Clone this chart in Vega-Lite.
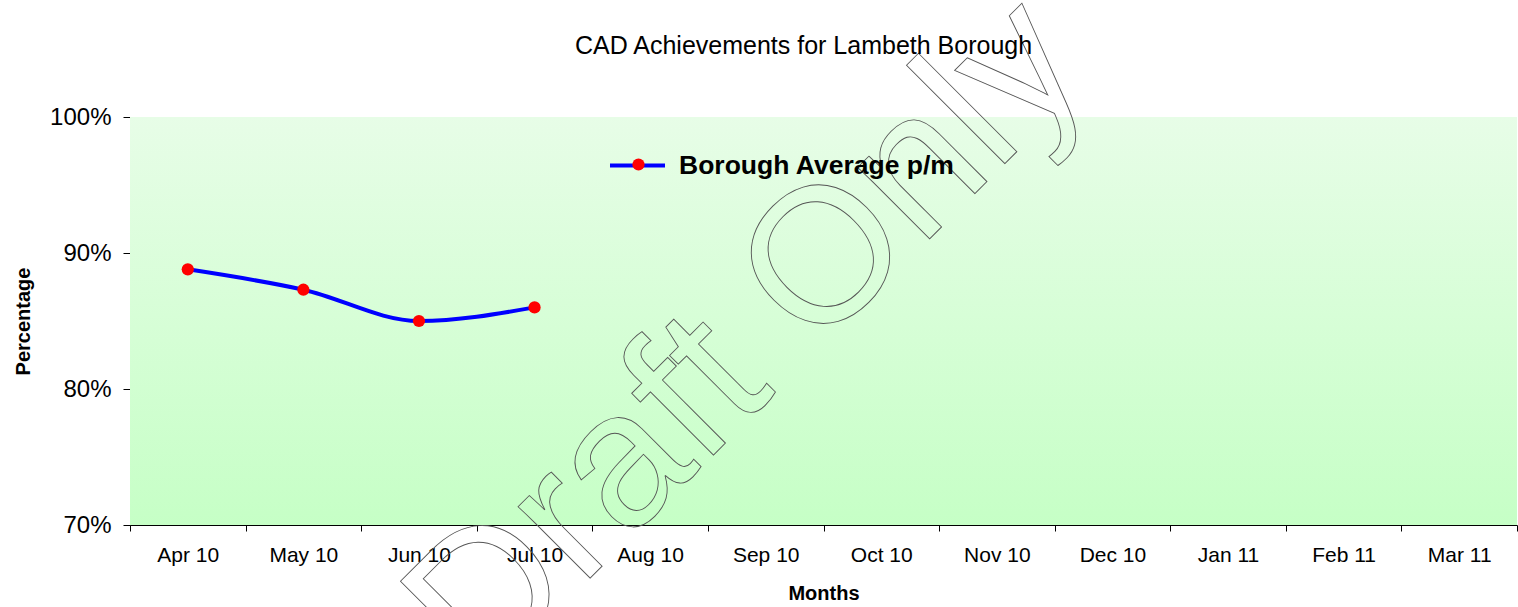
{
  "$schema": "https://vega.github.io/schema/vega-lite/v6.json",
  "width": 1387,
  "height": 408,
  "autosize": "none",
  "padding": {"left": 130, "top": 117, "right": 1, "bottom": 82},
  "background": "white",
  "title": {"text": "CAD Achievements for Lambeth Borough", "font": "Liberation Sans", "fontSize": 25, "fontWeight": "normal", "color": "#000000", "offset": -93, "dx": -20},
  "config": {"view": {"stroke": null}, "font": "Liberation Sans"},
  "datasets": {
    "series": [
      {"month": "Apr 10", "value": 0.888},
      {"month": "May 10", "value": 0.873},
      {"month": "Jun 10", "value": 0.850},
      {"month": "Jul 10", "value": 0.860}
    ],
    "plotarea": [{"name": "plot", "low": 0.7, "high": 1.0}],
    "watermark": [{"label": "Draft Only", "month": "Sep 10", "value": 0.845}]
  },
  "layer": [
    {
      "data": {"name": "plotarea"},
      "mark": {"type": "rect", "fill": {"gradient": "linear", "x1": 0, "y1": 0, "x2": 0, "y2": 1, "stops": [{"offset": 0, "color": "#e7fde7"}, {"offset": 1, "color": "#c6ffc6"}]}},
      "encoding": {
        "x": {"value": 0},
        "x2": {"value": "width"},
        "y": {"field": "low", "type": "quantitative", "scale": {"domain": [0.7, 1.0], "nice": false, "zero": false},
          "axis": {"title": "Percentage", "values": [0.7, 0.8, 0.9, 1.0], "format": ".0%", "labelFontSize": 24, "labelColor": "#000000", "tickSize": 7, "tickColor": "#000000", "domainColor": "#000000", "labelPadding": 12, "titleFontSize": 20, "titleFontWeight": "bold", "titleColor": "#000000", "titlePadding": 16, "grid": false}},
        "y2": {"field": "high"}
      }
    },
    {
      "data": {"name": "series"},
      "mark": {"type": "line", "interpolate": "monotone", "strokeWidth": 4},
      "encoding": {
        "x": {"field": "month", "type": "nominal", "bandPosition": 0.5,
          "scale": {"type": "band", "paddingInner": 0, "paddingOuter": 0,
            "domain": ["Apr 10","May 10","Jun 10","Jul 10","Aug 10","Sep 10","Oct 10","Nov 10","Dec 10","Jan 11","Feb 11","Mar 11"]},
          "axis": {"title": "Months", "labelAngle": 0, "labelFontSize": 21, "labelColor": "#000000", "tickBand": "extent", "tickSize": 6, "tickColor": "#000000", "domainColor": "#000000", "labelPadding": 13, "titleFontSize": 20, "titleFontWeight": "bold", "titleColor": "#000000", "titlePadding": 18, "grid": false}},
        "y": {"field": "value", "type": "quantitative"},
        "color": {"datum": "Borough Average p/m", "type": "nominal", "scale": {"range": ["#0000ff"]},
          "legend": {"title": null, "orient": "none", "legendX": 478, "legendY": 19, "symbolType": "stroke", "symbolSize": 3025, "symbolStrokeWidth": 4, "labelFontSize": 26.5, "labelFontWeight": "bold", "labelColor": "#000000", "labelOffset": 12, "labelLimit": 500, "padding": 0}}
      }
    },
    {
      "data": {"name": "series"},
      "mark": {"type": "point", "filled": true, "size": 150, "opacity": 1},
      "encoding": {
        "x": {"field": "month", "type": "nominal", "bandPosition": 0.5},
        "y": {"field": "value", "type": "quantitative"},
        "fill": {"datum": "dot", "type": "nominal", "scale": {"range": ["#ff0000"]},
          "legend": {"title": null, "orient": "none", "legendX": 502, "legendY": 41, "symbolType": "circle", "symbolSize": 150, "symbolStrokeWidth": 0, "labelExpr": "''", "padding": 0, "zindex": 2}}
      }
    },
    {
      "data": {"name": "watermark"},
      "mark": {"type": "text", "fontSize": 192, "angle": -45, "align": "center", "baseline": "middle", "dx": -21, "dy": -5, "fillOpacity": 0, "stroke": "#555555", "strokeWidth": 0.9, "font": "Liberation Sans"},
      "encoding": {
        "x": {"field": "month", "type": "nominal", "bandPosition": 0.5},
        "y": {"field": "value", "type": "quantitative"},
        "text": {"field": "label"}
      }
    }
  ]
}
